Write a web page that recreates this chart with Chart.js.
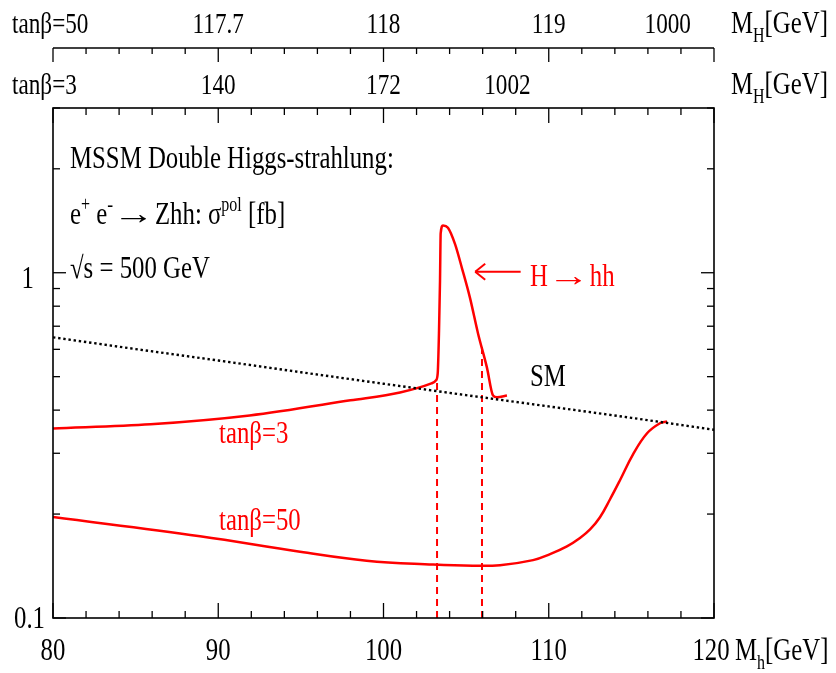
<!DOCTYPE html>
<html lang="en">
<head>
<meta charset="UTF-8">
<title>MSSM Double Higgs-strahlung</title>
<script src="https://cdn.jsdelivr.net/npm/chart.js"></script>
<style>
  html, body { margin: 0; padding: 0; background: #fff; }
  canvas { display: block; }
</style>
</head>
<body>
<canvas id="chart" width="836" height="673"></canvas>
<script>
  // Standard Model curve: M_h [GeV] -> sigma [fb]
  const smMh = [80, 85, 90, 95, 100, 105, 110, 115, 120];
  const smSigma = [0.65, 0.601, 0.557, 0.515, 0.477, 0.442, 0.41, 0.38, 0.351];

  // MSSM, tan(beta) = 3 (with the resonant H -> hh peak)
  const tb3Mh = [80, 85.9, 91.9, 98.0, 101.0, 102.9, 103.18, 103.28, 103.36, 103.42, 103.46, 103.6, 103.9,
                 104.33, 104.75, 105.23, 105.72, 106.26, 106.63, 106.87, 107.47];
  const tb3Sigma = [0.354, 0.364, 0.386, 0.427, 0.45, 0.478, 0.488, 0.511, 0.679, 0.948, 1.3, 1.37, 1.35,
                    1.21, 1.03, 0.847, 0.667, 0.531, 0.441, 0.436, 0.441];

  // MSSM, tan(beta) = 50
  const tb50Mh = [80, 88.9, 94.95, 98.98, 103.0, 105.4, 107.05, 109.05, 110.08, 111.1, 111.89, 112.5,
                  113.1, 113.71, 114.31, 115.1, 115.95, 116.73, 117.16];
  const tb50Sigma = [0.196, 0.1725, 0.1556, 0.1466, 0.1429, 0.1417, 0.1422, 0.1471, 0.1531, 0.1612, 0.1705, 0.1805,
                     0.1958, 0.2208, 0.2506, 0.2979, 0.3428, 0.3665, 0.371];

  // dashed thresholds
  const thresholdMh = [103.24, 105.96];
  const thresholdTop = [0.49, 0.62];

  // axis ticks
  const xTicks = [80, 90, 100, 110, 120];
  const yTicks = [0.1, 1];
  const yMinorTicks = [0.2, 0.3, 0.4, 0.5, 0.6, 0.7, 0.8, 0.9, 2, 3];
  const top50Mh = [90, 100, 110, 117.2];
  const top50Labels = ['117.7', '118', '119', '1000'];
  const top3Mh = [90, 100, 107.5];
  const top3Labels = ['140', '172', '1002'];

  const FONT = '"Liberation Serif", "Times New Roman", serif';
  const SX = 0.8; // condensed look of the original lettering
  const RED = '#ff0000';

  // draw a run of text pieces: [text, size, dy, sx]
  function put(ctx, x, y, parts, align, color) {
    ctx.fillStyle = color || '#000';
    ctx.textBaseline = 'alphabetic';
    ctx.textAlign = 'left';
    const sxOf = p => p[3] || SX;
    let w = 0;
    parts.forEach(p => { ctx.font = p[1] + 'px ' + FONT; w += ctx.measureText(p[0]).width * sxOf(p); });
    let cx = align === 'center' ? x - w / 2 : align === 'right' ? x - w : x;
    parts.forEach(p => {
      ctx.font = p[1] + 'px ' + FONT;
      const adv = ctx.measureText(p[0]).width * sxOf(p);
      ctx.save();
      ctx.translate(cx, y + (p[2] || 0));
      ctx.scale(sxOf(p), 1);
      ctx.fillText(p[0], 0, 0);
      ctx.restore();
      cx += adv;
    });
  }

  function seg(ctx, x1, y1, x2, y2) {
    ctx.beginPath();
    ctx.moveTo(x1, y1);
    ctx.lineTo(x2, y2);
    ctx.stroke();
  }

  const framePlugin = {
    id: 'frame',
    afterDraw(chart) {
      const ctx = chart.ctx;
      const xs = chart.scales.x, ys = chart.scales.y;
      const { left: L, right: R, top: T, bottom: B } = chart.chartArea;
      const topAxis = T - 60;

      ctx.save();
      ctx.strokeStyle = '#000';
      ctx.lineWidth = 1.6;
      ctx.strokeRect(L, T, R - L, B - T);
      seg(ctx, L, topAxis, R, topAxis);

      // x ticks every 2 GeV, on bottom, frame top and the extra top axis
      ctx.lineWidth = 1.3;
      for (let m = 80; m <= 120; m += 2) {
        const px = xs.getPixelForValue(m);
        const major = m % 10 === 0;
        const len = major ? 15 : 7;
        seg(ctx, px, B, px, B - len);
        seg(ctx, px, T, px, T + len);
        seg(ctx, px, topAxis, px, topAxis + (major ? 14 : 6));
      }
      // y ticks, both sides
      yTicks.concat(yMinorTicks).forEach(v => {
        const py = ys.getPixelForValue(v);
        const len = yTicks.includes(v) ? 13 : 7;
        seg(ctx, L, py, L + len, py);
        seg(ctx, R, py, R - len, py);
      });

      // tick labels
      xTicks.forEach(m => put(ctx, xs.getPixelForValue(m) - (m === 120 ? 3 : 0), B + 42, [[String(m), 31]], 'center'));
      put(ctx, R + 21, B + 42, [['M', 31], ['h', 20, 9], ['[GeV]', 31]], 'left');
      put(ctx, L - 8, ys.getPixelForValue(0.1) + 10, [['0.1', 31]], 'right');
      put(ctx, L - 19, ys.getPixelForValue(1) + 15, [['1', 31]], 'right');

      // upper axes: M_H for tan(beta) = 50 and 3
      put(ctx, 12, 33, [['tanβ=50', 29]], 'left');
      top50Mh.forEach((m, i) => put(ctx, xs.getPixelForValue(m), 33, [[top50Labels[i], 29]], 'center'));
      put(ctx, 731, 33, [['M', 31], ['H', 20, 9], ['[GeV]', 31]], 'left');
      put(ctx, 12, 94, [['tanβ=3', 29]], 'left');
      top3Mh.forEach((m, i) => put(ctx, xs.getPixelForValue(m), 94, [[top3Labels[i], 29]], 'center'));
      put(ctx, 731, 94, [['M', 31], ['H', 20, 9], ['[GeV]', 31]], 'left');

      // legend text block
      put(ctx, 70, 168, [['MSSM Double Higgs-strahlung:', 31]], 'left');
      put(ctx, 70, 224, [['e', 31], ['+', 20, -13], [' e', 31], ['-', 22, -13],
                         ['→', 31, 0, 1.35], ['Zhh: σ', 31],
                         ['pol', 20, -13], [' [fb]', 31]], 'left');
      put(ctx, 70, 278, [['√s = 500 GeV', 31]], 'left');

      // curve labels
      put(ctx, 219, 443, [['tanβ=3', 31]], 'left', RED);
      put(ctx, 219, 530, [['tanβ=50', 31]], 'left', RED);
      put(ctx, 530, 386, [['SM', 31]], 'left');

      // H -> hh arrow
      const ay = ys.getPixelForValue(1.0) - 1;
      const ax1 = xs.getPixelForValue(105.55), ax2 = xs.getPixelForValue(108.3);
      ctx.strokeStyle = RED;
      ctx.lineWidth = 2;
      seg(ctx, ax1, ay, ax2, ay);
      seg(ctx, ax1, ay, ax1 + 10, ay - 8);
      seg(ctx, ax1, ay, ax1 + 10, ay + 8);
      put(ctx, xs.getPixelForValue(108.87), ay + 14,
          [['H', 31], ['→', 31, 0, 1.35], ['hh', 31]], 'left', RED);
      ctx.restore();
    }
  };

  const toPts = (xsArr, ysArr) => xsArr.map((x, i) => ({ x: x, y: ysArr[i] }));

  const datasets = [
    {
      label: 'SM',
      data: toPts(smMh, smSigma),
      borderColor: '#000',
      borderWidth: 2.4,
      borderDash: [2.4, 2.8],
      pointRadius: 0
    },
    {
      label: 'tanβ=3',
      data: toPts(tb3Mh, tb3Sigma),
      borderColor: RED,
      borderWidth: 2.5,
      cubicInterpolationMode: 'monotone',
      pointRadius: 0
    },
    {
      label: 'tanβ=50',
      data: toPts(tb50Mh, tb50Sigma),
      borderColor: RED,
      borderWidth: 2.5,
      tension: 0.4,
      pointRadius: 0
    }
  ];
  thresholdMh.forEach((m, i) => {
    datasets.push({
      label: 'threshold ' + (i + 1),
      data: [{ x: m, y: 0.1 }, { x: m, y: thresholdTop[i] }],
      borderColor: RED,
      borderWidth: 2,
      borderDash: [7, 5],
      pointRadius: 0
    });
  });

  new Chart(document.getElementById('chart'), {
    type: 'line',
    data: { datasets: datasets },
    options: {
      responsive: false,
      animation: false,
      layout: { padding: { left: 53, top: 108, right: 122, bottom: 55 } },
      plugins: { legend: { display: false }, tooltip: { enabled: false } },
      scales: {
        x: { type: 'linear', min: 80, max: 120, display: false },
        y: { type: 'logarithmic', min: 0.1, max: 3, display: false }
      }
    },
    plugins: [framePlugin]
  });
</script>
</body>
</html>
